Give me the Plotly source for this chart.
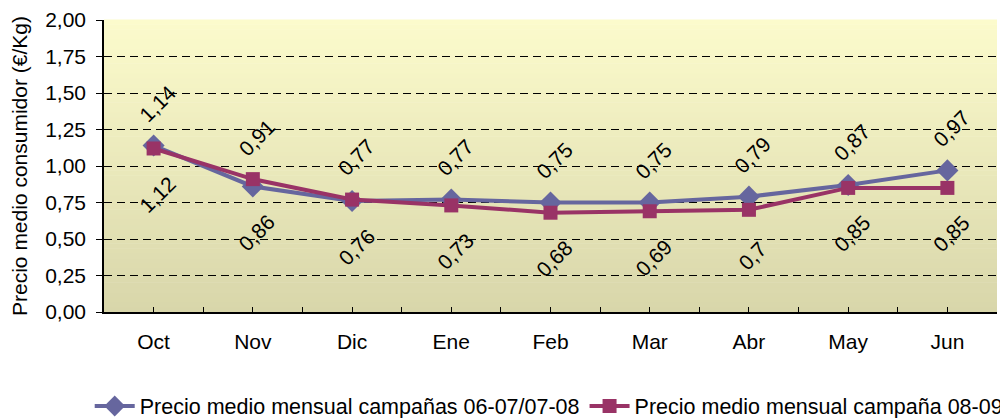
import plotly.graph_objects as go

months = ["Oct", "Nov", "Dic", "Ene", "Feb", "Mar", "Abr", "May", "Jun"]
serie_0607_0708 = [1.14, 0.86, 0.76, 0.77, 0.75, 0.75, 0.79, 0.87, 0.97]
serie_0809 = [1.12, 0.91, 0.77, 0.73, 0.68, 0.69, 0.70, 0.85, 0.85]
name_a = "Precio medio mensual campañas 06-07/07-08"
name_b = "Precio medio mensual campaña 08-09"
y_ticks = [0, 0.25, 0.5, 0.75, 1.0, 1.25, 1.5, 1.75, 2.0]

FONT = "Liberation Sans, Arial, sans-serif"
FS = 21
BLUE = "#66669E"
MAROON = "#993366"

xs = list(range(len(months)))


def fmt(v):
    s = f"{v:.2f}".rstrip("0").rstrip(".")
    return s.replace(".", ",")


fig = go.Figure()
fig.add_trace(go.Scatter(x=xs, y=serie_0607_0708, name=name_a, mode="lines+markers",
                         line=dict(color=BLUE, width=4),
                         marker=dict(symbol="diamond", size=17, color=BLUE)))
fig.add_trace(go.Scatter(x=xs, y=serie_0809, name=name_b, mode="lines+markers",
                         line=dict(color=MAROON, width=4),
                         marker=dict(symbol="square", size=14, color=MAROON)))

# gradient background (light yellow top -> khaki bottom)
top = (252, 251, 204)
bot = (216, 214, 170)
n = 60
for i in range(n):
    t = (i + 0.5) / n
    c = tuple(round(bot[k] + (top[k] - bot[k]) * t) for k in range(3))
    fig.add_shape(type="rect", xref="x domain", yref="y domain",
                  x0=0, x1=1, y0=i / n, y1=(i + 1) / n + 0.002,
                  fillcolor=f"rgb{c}", line=dict(width=0), layer="below")

# data labels, rotated
for i, (a, b) in enumerate(zip(serie_0607_0708, serie_0809)):
    hi, lo = (a, b) if a >= b else (b, a)
    fig.add_annotation(x=i, y=hi, text=fmt(hi), showarrow=False, textangle=-45,
                       xanchor="center", yanchor="middle", xshift=4, yshift=42,
                       font=dict(family=FONT, size=FS, color="black"))
    fig.add_annotation(x=i, y=lo, text=fmt(lo), showarrow=False, textangle=-45,
                       xanchor="center", yanchor="middle", xshift=4, yshift=-46,
                       font=dict(family=FONT, size=FS, color="black"))

# page body adds an 8px offset, so the figure is 1000x410
fig.update_layout(
    width=1000, height=410,
    margin=dict(l=96, r=11, t=12, b=106, autoexpand=False),
    paper_bgcolor="white", plot_bgcolor="rgba(0,0,0,0)",
    font=dict(family=FONT, size=FS, color="black"),
    showlegend=True,
    legend=dict(orientation="h", x=-0.016, xanchor="left", y=-0.322, yanchor="middle",
                font=dict(family=FONT, size=FS + 0.5, color="black"),
                itemwidth=40, tracegroupgap=0, bgcolor="rgba(0,0,0,0)"),
)
fig.update_xaxes(range=[-0.5, len(months) - 0.5], tickvals=xs, ticktext=months,
                 ticks="inside", ticklen=5, tickcolor="black", showgrid=False,
                 zeroline=False, showline=True, linecolor="black", linewidth=1.5,
                 ticklabelstandoff=10, automargin=False,
                 minor=dict(tick0=-0.5, dtick=1, ticks="inside", ticklen=5, tickcolor="black", showgrid=False),
                 tickfont=dict(family=FONT, size=FS, color="black"))
fig.update_yaxes(range=[0, 2.0], tickvals=y_ticks,
                 ticktext=[f"{v:.2f}".replace(".", ",") for v in y_ticks],
                 ticks="outside", ticklen=6, tickcolor="black",
                 showgrid=True, gridcolor="black", gridwidth=1, griddash="8px,5px",
                 zeroline=False, showline=True, linecolor="black", linewidth=1.5,
                 ticklabelstandoff=6, automargin=False,
                 tickfont=dict(family=FONT, size=FS, color="black"),
                 title=dict(text="Precio medio consumidor (€/Kg)", standoff=20,
                            font=dict(family=FONT, size=FS, color="black")))

fig.write_html("out.html")
